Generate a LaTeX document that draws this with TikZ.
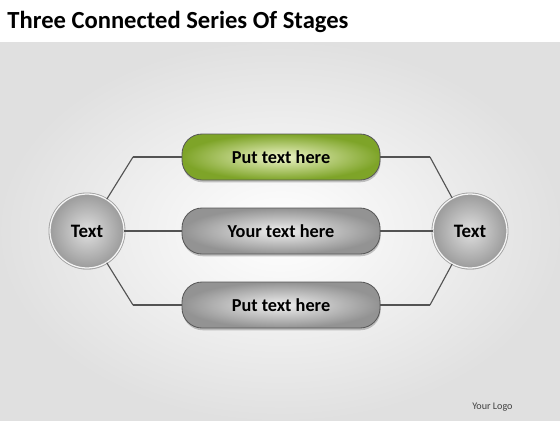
\documentclass[tikz,border=0pt]{standalone}
\usepackage{fontspec}
\setmainfont{Carlito}
\usetikzlibrary{positioning,shadows}

\definecolor{stagegreenlight}{RGB}{238,245,200}
\definecolor{stagegreendark}{RGB}{126,164,40}

\begin{document}
\begin{tikzpicture}
    [
        semithick,
        node distance=1.85cm,
        hub/.style={shape=circle, minimum size=1.85cm, inner sep=0pt,
            inner color=gray!25, outer color=gray!78,
            draw=gray!75, double=white!92!gray, double distance=0.9pt,
            drop shadow={opacity=0.3, shadow xshift=0.3pt, shadow yshift=-1.2pt},
            font=\fontsize{13.5}{16}\selectfont\bfseries},
        stage/.style={shape=rectangle, rounded corners=0.5cm,
            minimum width=4.95cm, minimum height=1.15cm,
            draw=black!65, line width=0.6pt,
            drop shadow={opacity=0.45, shadow xshift=0.4pt, shadow yshift=-1.6pt},
            inner color=gray!12, outer color=gray!85,
            font=\fontsize{13}{16}\selectfont\bfseries},
        stage green/.style={stage, inner color=stagegreenlight, outer color=stagegreendark},
        knee/.style={shape=coordinate},
        link/.style={draw=gray!65!black, line width=0.8pt, -},
        label text/.style={inner sep=0pt}
    ]
    \useasboundingbox (-2.175,-4.725) rectangle (11.825,5.775);
    \fill [white] (-2.175,-4.725) rectangle (11.825,5.775);
    \shade [inner color=white, outer color=gray!24] (-2.175,-4.725) rectangle (11.825,4.725);

    \node (title) [label text, anchor=base west, font=\fontsize{17.5}{20}\selectfont\bfseries]
        at (-2.0,5.075) {Three Connected Series Of Stages};

    \node (hub left) [hub] {Text};
    \node (stage 2) [stage, right of=hub left, node distance=4.85cm] {Your text here};
    \node (stage 1) [stage green, above of=stage 2] {Put text here};
    \node (stage 3) [stage, below of=stage 2] {Put text here};
    \node (hub right) [hub, right of=stage 2, node distance=4.725cm] {Text};

    \node (knee left) [knee, right of=hub left, node distance=1.15cm] {};
    \node (knee right) [knee, left of=hub right, node distance=1.0cm] {};

    \path [link]
    (hub left) edge (knee left |- stage 1)
    (knee left |- stage 1) edge (stage 1)
    (hub left) edge (stage 2)
    (hub left) edge (knee left |- stage 3)
    (knee left |- stage 3) edge (stage 3)
    (stage 1) edge (knee right |- stage 1)
    (knee right |- stage 1) edge (hub right)
    (stage 2) edge (hub right)
    (stage 3) edge (knee right |- stage 3)
    (knee right |- stage 3) edge (hub right)
    ;

    \node (logo) [label text, anchor=base east, text=black!75, font=\fontsize{7.2}{9}\selectfont]
        at (10.65,-4.45) {Your Logo};
\end{tikzpicture}
\end{document}
